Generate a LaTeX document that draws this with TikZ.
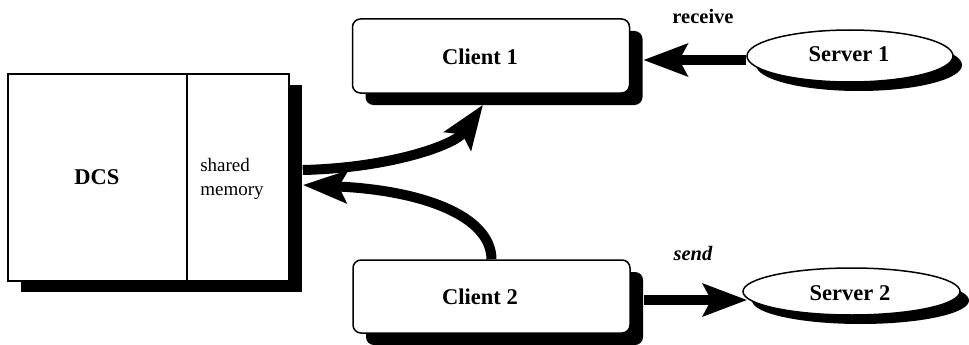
\documentclass[tikz,border=0pt]{standalone}
\usepackage{fontspec}
\setmainfont{Liberation Serif}
\usetikzlibrary{arrows.meta,shadows,shapes.geometric}

\begin{document}
\begin{tikzpicture}[x=1pt,y=-1pt,
  box/.style={draw=black, line width=1.5pt, fill=white, inner sep=0pt},
  rectshadow/.style={drop shadow={shadow xshift=13pt, shadow yshift=-12pt, fill=black, opacity=1}},
  clientbox/.style={box, rounded corners=8pt, minimum width=277pt, minimum height=74pt, rectshadow},
  serverell/.style={box, ellipse, drop shadow={shadow xshift=9pt, shadow yshift=-9pt, fill=black, opacity=1}},
  bigtxt/.style={font=\fontsize{22.5}{27}\selectfont\bfseries, inner sep=0pt},
  smalltxt/.style={font=\fontsize{20.5}{24}\selectfont\bfseries, inner sep=0pt},
  flow/.style={line width=10pt, -{Stealth[length=44pt, width=32pt, inset=8pt]}},
]
\useasboundingbox (0,0) rectangle (969,345);

% DCS block with its shared-memory partition
\node[box, minimum width=281pt, minimum height=207pt,
      drop shadow={shadow xshift=13pt, shadow yshift=-11pt, fill=black, opacity=1}]
  (dcs) at (148.5,177.5) {};
\coordinate (div) at (187,0);
\draw[line width=1.5pt] (dcs.north -| div) -- (dcs.south -| div);
\node[bigtxt] (dcst) at (97,177) {DCS};
\node[font=\fontsize{19}{24}\selectfont, align=left, inner sep=0pt] (shm) at (232,179) {shared\\memory};

% clients
\node[clientbox] (c1) at (491,56) {};
\node[bigtxt] (c1t) at (480,57) {Client 1};
\node[clientbox, minimum height=73pt] (c2) at (491.5,296.5) {};
\node[bigtxt] (c2t) at (480,297) {Client 2};

% servers
\node[serverell, minimum width=206pt, minimum height=52pt] (s1) at (850,56) {};
\node[bigtxt] (s1t) at (849,54) {Server 1};
\node[serverell, minimum width=217pt, minimum height=47pt] (s2) at (851.5,291.5) {};
\node[bigtxt] (s2t) at (850,293) {Server 2};

% message labels
\node[smalltxt] (recv) at (703,16) {receive};
\node[smalltxt, font=\fontsize{20.5}{24}\selectfont\bfseries\itshape] (snd) at (693,253) {send};

% data flows
\draw[flow] ([xshift=13pt, yshift=7.5pt]dcs.east)
  .. controls (390,168) and (455,145) .. ([xshift=-8pt, yshift=-11pt]c1.south);
\draw[flow] (c2.north)
  .. controls (491,215) and (420,190) .. ([xshift=13pt, yshift=-7.5pt]dcs.east);
\draw[flow] ([yshift=-4pt]s1.west) -- ([xshift=13pt, yshift=-4pt]c1.east);
\draw[flow] ([xshift=13pt, yshift=-3.5pt]c2.east) -- ([xshift=5pt, yshift=-8.5pt]s2.west);
\end{tikzpicture}
\end{document}
